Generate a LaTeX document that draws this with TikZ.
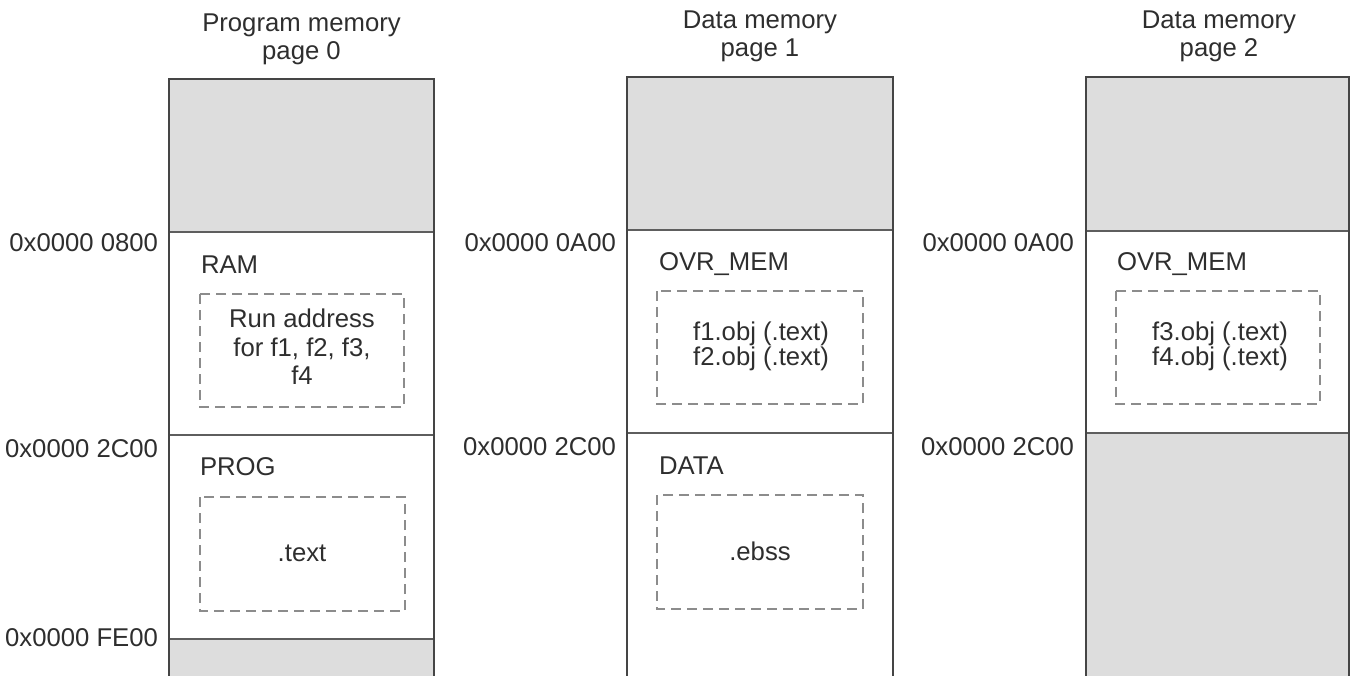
\documentclass[tikz,border=0pt]{standalone}
\usepackage{fontspec}
\setmainfont{Liberation Sans}
\definecolor{memgray}{HTML}{DDDDDD}
\definecolor{border}{HTML}{454545}
\definecolor{divline}{HTML}{5E5E5E}
\definecolor{dashgray}{HTML}{8C8C8C}
\definecolor{txt}{HTML}{2E2E2E}
\tikzset{
  every node/.style={inner sep=0pt, outer sep=0pt, text=txt, font=\fontsize{25.7}{28}\selectfont},
  grayfill/.style={fill=memgray},
  colborder/.style={draw=border, line width=2pt},
  divider/.style={draw=divline, line width=2pt},
  dashbox/.style={draw=dashgray, line width=2pt, dash pattern=on 10pt off 6pt},
  addr/.style={anchor=east},
  sect/.style={anchor=base west},
  title/.style={align=center},
  content/.style={align=center},
}
\begin{document}
\begin{tikzpicture}[x=1pt,y=-1pt]
\useasboundingbox (0,0) rectangle (1351,676);

% ---------- Column 1: Program memory page 0 ----------
\fill[grayfill] (169,79) rectangle (434,232);
\fill[grayfill] (169,639) rectangle (434,676);
\draw[divider] (169,232) -- (434,232);
\draw[divider] (169,435) -- (434,435);
\draw[divider] (169,639) -- (434,639);
\draw[colborder] (169,676) -- (169,79) -- (434,79) -- (434,676);
\draw[dashbox] (200,294) rectangle (404,407);
\draw[dashbox] (200,497) rectangle (405,611);

\node[title] (t1) at (301.5,39) {Program memory\\page 0};
\node[sect] (ram) at (201,273) {RAM};
\node[content, font=\fontsize{25.7}{28.5}\selectfont] (runaddr) at (302,347) {Run address\\for f1, f2, f3,\\f4};
\node[sect] (prog) at (200,475) {PROG};
\node (text1) at (302,553) {.text};
\node[addr] (a1) at (158,243) {0x0000 0800};
\node[addr] (a2) at (158,449) {0x0000 2C00};
\node[addr] (a3) at (158,638) {0x0000 FE00};

% ---------- Column 2: Data memory page 1 ----------
\fill[grayfill] (627,77) rectangle (893,230);
\draw[divider] (627,230) -- (893,230);
\draw[divider] (627,433) -- (893,433);
\draw[colborder] (627,676) -- (627,77) -- (893,77) -- (893,676);
\draw[dashbox] (657,291) rectangle (863,404);
\draw[dashbox] (657,495) rectangle (863,609);

\node[title] (t2) at (760,36) {Data memory\\page 1};
\node[sect] (ovr1) at (659,270) {OVR\_MEM};
\node[content, font=\fontsize{25.7}{25}\selectfont] (f12) at (761,346) {f1.obj (.text)\\f2.obj (.text)};
\node[sect] (data) at (659,474) {DATA};
\node (ebss) at (760,551) {.ebss};
\node[addr] (b1) at (616,243) {0x0000 0A00};
\node[addr] (b2) at (616,447) {0x0000 2C00};

% ---------- Column 3: Data memory page 2 ----------
\fill[grayfill] (1086,77) rectangle (1349,231);
\fill[grayfill] (1086,433) rectangle (1349,676);
\draw[divider] (1086,231) -- (1349,231);
\draw[divider] (1086,433) -- (1349,433);
\draw[colborder] (1086,676) -- (1086,77) -- (1349,77) -- (1349,676);
\draw[dashbox] (1116,291) rectangle (1320,404);

\node[title] (t3) at (1219,36) {Data memory\\page 2};
\node[sect] (ovr2) at (1117,270) {OVR\_MEM};
\node[content, font=\fontsize{25.7}{25}\selectfont] (f34) at (1220,346) {f3.obj (.text)\\f4.obj (.text)};
\node[addr] (c1) at (1074,243) {0x0000 0A00};
\node[addr] (c2) at (1074,447) {0x0000 2C00};
\end{tikzpicture}
\end{document}
